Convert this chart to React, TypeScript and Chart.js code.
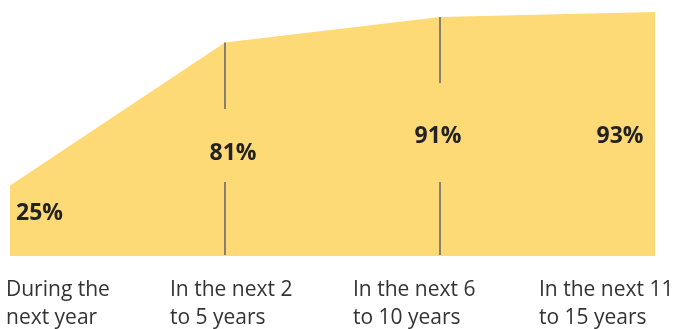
import React, { useEffect, useRef } from "react";
import { Chart, registerables } from "chart.js";

Chart.register(...registerables);

const categories = ["During the next year", "In the next 2 to 5 years", "In the next 6 to 10 years", "In the next 11 to 15 years"];
const categoryLines = [["During the", "next year"], ["In the next 2", "to 5 years"], ["In the next 6", "to 10 years"], ["In the next 11", "to 15 years"]];
const values = [25, 81, 91, 93];
const valueLabels = ["25%", "81%", "91%", "93%"];

// layout for annotation text (pixel offsets relative to each category position)
const valueLabelLayout = [
  { dx: 6, y: 213, align: "left" },
  { dx: 8, y: 153, align: "center" },
  { dx: -2, y: 136, align: "center" },
  { dx: -35, y: 136, align: "center" },
];
const catLabelDx = [-4, -55, -87, -116];
const gapRanges: Record<number, [number, number]> = { 1: [109, 182], 2: [83, 182] };

const overlay = {
  id: "overlay",
  afterDatasetsDraw(chart: any) {
    const ctx = chart.ctx;
    const xs = chart.scales.x;
    const ys = chart.scales.y;
    const bottom = chart.chartArea.bottom;
    ctx.save();
    // vertical dividers
    ctx.strokeStyle = "#878070";
    ctx.lineWidth = 2;
    [1, 2].forEach((i) => {
      const x = Math.round(xs.getPixelForValue(i));
      const top = ys.getPixelForValue(values[i]);
      const [g1, g2] = gapRanges[i];
      ctx.beginPath();
      ctx.moveTo(x, top);
      ctx.lineTo(x, g1);
      ctx.moveTo(x, g2);
      ctx.lineTo(x, bottom - 1);
      ctx.stroke();
    });
    // value labels
    ctx.fillStyle = "#222222";
    ctx.font = "bold 23px 'Open Sans'";
    ctx.textBaseline = "middle";
    valueLabels.forEach((t, i) => {
      const l = valueLabelLayout[i];
      ctx.textAlign = l.align;
      ctx.fillText(t, xs.getPixelForValue(i) + l.dx, l.y);
    });
    // category labels
    ctx.fillStyle = "#333333";
    ctx.font = "21px 'Open Sans'";
    ctx.textAlign = "left";
    categoryLines.forEach((lines, i) => {
      const x = xs.getPixelForValue(i) + catLabelDx[i];
      lines.forEach((ln, j) => ctx.fillText(ln, x, 290 + j * 28));
    });
    ctx.restore();
  },
};

export default function App() {
  const ref = useRef<HTMLCanvasElement>(null);
  useEffect(() => {
    const chart = new Chart(ref.current!, {
      type: "line",
      data: {
        labels: categories,
        datasets: [
          {
            data: values,
            fill: "start",
            backgroundColor: "#FDDA76",
            borderWidth: 0,
            borderColor: "rgba(0,0,0,0)",
            pointRadius: 0,
            tension: 0,
          },
        ],
      },
      options: {
        animation: false,
        responsive: true,
        maintainAspectRatio: false,
        layout: { padding: { left: 10, right: 18, top: 0, bottom: 73 } },
        plugins: { legend: { display: false }, tooltip: { enabled: false } },
        scales: {
          x: { display: false, offset: false },
          y: { display: false, min: -2.6, max: 97.7 },
        },
      },
      plugins: [overlay],
    });
    return () => chart.destroy();
  }, []);
  return (
    <div style={{ position: "fixed", left: 0, top: 0, width: 673, height: 329 }}>
      <canvas ref={ref} />
    </div>
  );
}
